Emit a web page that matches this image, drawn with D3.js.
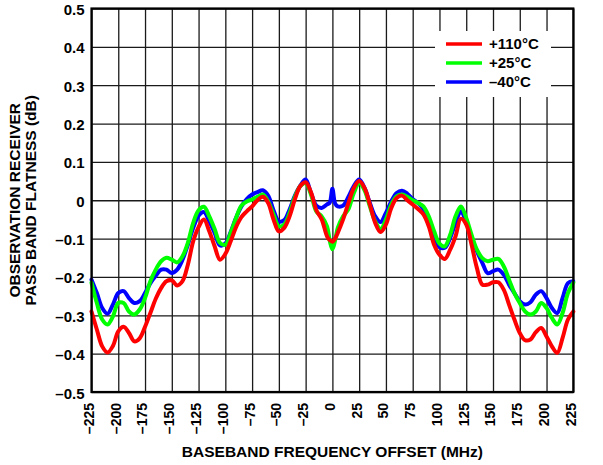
<!DOCTYPE html>
<html><head><meta charset="utf-8">
<script src="https://cdn.jsdelivr.net/npm/d3@7"></script>
<style>
html,body{margin:0;padding:0;background:#fff;}
svg text{font-family:"Liberation Sans",Arial,sans-serif;font-weight:bold;fill:#000;}
</style></head>
<body>
<svg id="chart" width="603" height="465"></svg>
<script>
const freq = [-225,-220,-215,-210,-205,-200,-195,-190,-185,-180,
  -175,-170,-165,-160,-155,-150,-145,-140,-135,-130,
  -125,-120,-115,-110,-105,-100,-95,-90,-85,-80,
  -75,-70,-65,-60,-55,-50,-45,-40,-35,-30,
  -25,-20,-15,-10,-5,
  -2.5,0,2.5,
  5,10,15,20,25,30,35,40,45,50,
  55,60,65,70,75,80,85,90,95,100,
  105,110,115,120,125,130,135,140,145,150,
  155,160,165,170,175,180,185,190,195,200,
  205,210,215,220,225];

const red110 = [-0.29,-0.337,-0.381,-0.397,-0.38,-0.342,-0.33,-0.346,-0.368,-0.36,
  -0.33,-0.294,-0.257,-0.229,-0.211,-0.209,-0.222,-0.211,-0.168,-0.107,
  -0.07,-0.05,-0.081,-0.12,-0.155,-0.14,-0.107,-0.07,-0.044,-0.029,
  -0.016,0.0,0.009,-0.007,-0.05,-0.081,-0.072,-0.042,0.003,0.037,
  0.047,0.021,-0.026,-0.05,-0.094,
  -0.104,-0.108,-0.1,
  -0.085,-0.05,-0.007,0.032,0.05,0.032,-0.011,-0.059,-0.083,-0.063,
  -0.02,0.006,0.012,0.0,-0.011,-0.023,-0.037,-0.068,-0.116,-0.142,
  -0.153,-0.129,-0.094,-0.048,-0.063,-0.116,-0.177,-0.22,-0.22,-0.214,
  -0.214,-0.233,-0.272,-0.311,-0.346,-0.365,-0.363,-0.344,-0.333,-0.355,
  -0.381,-0.398,-0.359,-0.311,-0.29];

const green25 = [-0.215,-0.268,-0.311,-0.324,-0.303,-0.268,-0.268,-0.29,-0.298,-0.285,
  -0.255,-0.211,-0.181,-0.159,-0.15,-0.155,-0.162,-0.146,-0.111,-0.059,
  -0.026,-0.017,-0.042,-0.075,-0.111,-0.116,-0.085,-0.046,-0.014,-0.003,
  0.002,0.009,0.015,-0.003,-0.037,-0.068,-0.063,-0.033,0.009,0.037,
  0.045,0.015,-0.029,-0.042,-0.068,
  -0.105,-0.128,-0.105,
  -0.072,-0.042,-0.023,0.019,0.044,0.026,-0.016,-0.055,-0.075,-0.05,
  -0.011,0.01,0.015,0.009,0.0,-0.007,-0.016,-0.042,-0.081,-0.113,
  -0.12,-0.09,-0.042,-0.016,-0.046,-0.09,-0.129,-0.151,-0.159,-0.155,
  -0.153,-0.172,-0.207,-0.242,-0.268,-0.29,-0.298,-0.29,-0.268,-0.281,
  -0.307,-0.324,-0.294,-0.242,-0.215];

const blueM40 = [-0.207,-0.242,-0.281,-0.296,-0.272,-0.242,-0.237,-0.255,-0.268,-0.263,
  -0.242,-0.216,-0.197,-0.181,-0.181,-0.19,-0.181,-0.155,-0.116,-0.072,
  -0.04,-0.031,-0.055,-0.085,-0.118,-0.113,-0.083,-0.046,-0.016,0.003,
  0.015,0.021,0.026,0.012,-0.026,-0.055,-0.052,-0.024,0.012,0.038,
  0.054,0.019,-0.014,-0.02,-0.011,
  -0.006,0.03,-0.008,
  -0.016,-0.014,0.009,0.037,0.054,0.032,-0.007,-0.042,-0.057,-0.033,
  -0.003,0.019,0.025,0.017,0.003,-0.007,-0.023,-0.05,-0.09,-0.122,
  -0.124,-0.098,-0.059,-0.029,-0.057,-0.098,-0.133,-0.163,-0.19,-0.185,
  -0.181,-0.194,-0.22,-0.242,-0.263,-0.272,-0.266,-0.246,-0.237,-0.255,
  -0.281,-0.294,-0.255,-0.216,-0.211];

const seriesNames = ["+110°C","+25°C","–40°C"];
const seriesColors = ["#ff0000","#00ff00","#0000ff"];
const xTicks = [-225,-200,-175,-150,-125,-100,-75,-50,-25,0,25,50,75,100,125,150,175,200,225];
const yTicks = [-0.5,-0.4,-0.3,-0.2,-0.1,0,0.1,0.2,0.3,0.4,0.5];
const xTitle = "BASEBAND FREQUENCY OFFSET (MHz)";
const yTitle = ["OBSERVATION RECEIVER","PASS BAND FLATNESS (dB)"];

const svg = d3.select("#chart");
const L = 91.5, R = 573.3, T = 8.5, B = 392;
const x = d3.scaleLinear().domain([-225,225]).range([L,R]);
const y = d3.scaleLinear().domain([-0.5,0.5]).range([B,T]);
const dash = v => (v < 0 ? "–" : "") + Math.abs(v);

// x grid + labels
const gx = svg.append("g").attr("transform",`translate(0,${B})`)
  .call(d3.axisBottom(x).tickValues(xTicks).tickSizeInner(-(B-T)).tickSizeOuter(0).tickFormat(dash));
gx.select(".domain").remove();
gx.selectAll("line").attr("stroke","#1a1a1a").attr("stroke-width",1.3);
gx.selectAll("text").attr("transform","rotate(-90)").attr("x",-11).attr("y",-3)
  .attr("dy","0.35em").attr("text-anchor","end").style("font-size","14px").style("font-family","'Liberation Sans',Arial,sans-serif").style("font-weight","bold");

// y grid + labels
const gy = svg.append("g").attr("transform",`translate(${L},0)`)
  .call(d3.axisLeft(y).tickValues(yTicks).tickSizeInner(-(R-L)).tickSizeOuter(0)
    .tickFormat(v => Math.abs(v) < 1e-9 ? "0" : (v < 0 ? "–" : "") + Math.abs(v).toFixed(1)));
gy.select(".domain").remove();
gy.selectAll("line").attr("stroke","#1a1a1a").attr("stroke-width",1.3);
gy.selectAll("text").attr("x",-7).attr("dy","0.4em").style("font-size","15px").style("font-family","'Liberation Sans',Arial,sans-serif").style("font-weight","bold");

// legend box background (covers grid)
const legX = 435, legY = 31, legW = 116, legH = 66;
svg.append("rect").attr("x",legX).attr("y",legY).attr("width",legW).attr("height",legH).attr("fill","#fff");

// lines
const line = d3.line().x(d => x(d[0])).y(d => y(d[1])).curve(d3.curveCatmullRom.alpha(0.5));
const allSeries = [red110, green25, blueM40];
[2,1,0].forEach(i => {
  svg.append("path").datum(freq.map((f,k) => [f, allSeries[i][k]]))
    .attr("d", line).attr("fill","none").attr("stroke",seriesColors[i])
    .attr("stroke-width",4).attr("stroke-linejoin","round").attr("stroke-linecap","round");
});

// frame
svg.append("rect").attr("x",L).attr("y",T).attr("width",R-L).attr("height",B-T)
  .attr("fill","none").attr("stroke","#000").attr("stroke-width",2.2);

// legend
seriesNames.forEach((n,i) => {
  const yy = 44 + i*19;
  svg.append("line").attr("x1",446).attr("x2",482).attr("y1",yy).attr("y2",yy)
    .attr("stroke",seriesColors[i]).attr("stroke-width",3.5);
  svg.append("text").attr("x",489).attr("y",yy).attr("dy","0.36em").style("font-size","15px").text(n);
});

// axis titles
svg.append("text").attr("x",(L+R)/2).attr("y",457).attr("text-anchor","middle").style("font-size","15.5px").text(xTitle);
yTitle.forEach((t,i) => {
  svg.append("text").attr("transform",`translate(${20 + i*16},${(T+B)/2}) rotate(-90)`)
    .attr("text-anchor","middle").style("font-size","15.5px").text(t);
});
</script>
</body></html>
